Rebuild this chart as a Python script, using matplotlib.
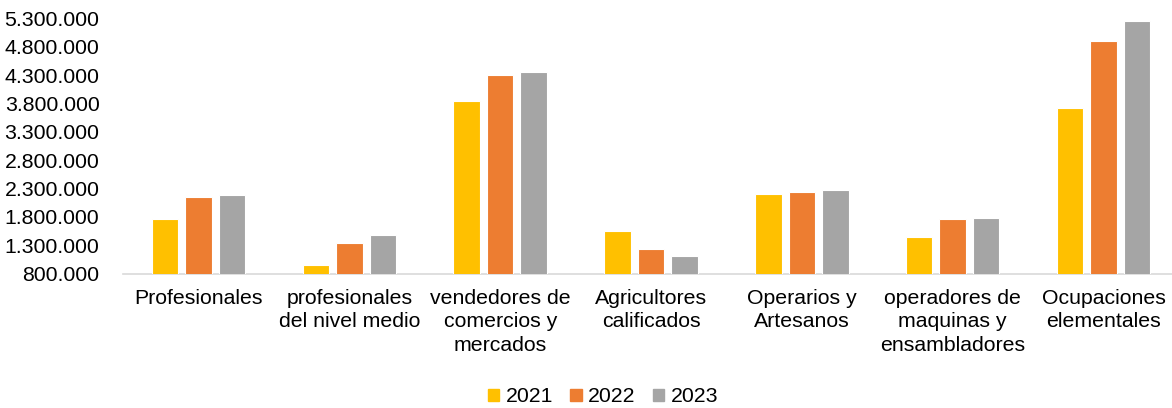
import numpy as np
import matplotlib
matplotlib.use('Agg')
import matplotlib.pyplot as plt
import matplotlib.patches as mpatches
from matplotlib.ticker import FuncFormatter

plt.rcParams['font.family'] = ['Liberation Sans', 'DejaVu Sans']

# ── Data ──────────────────────────────────────────────────────────────────────
categories = ["Profesionales",
              "profesionales\ndel nivel medio",
              "vendedores de\ncomercios y\nmercados",
              "Agricultores\ncalificados",
              "Operarios y\nArtesanos",
              "operadores de\nmaquinas y\nensambladores",
              "Ocupaciones\nelementales"]
years = ["2021", "2022", "2023"]
v2021 = [1762000, 955000, 3844000, 1545000, 2208000, 1444000, 3720000]
v2022 = [2150000, 1344000, 4297000, 1232000, 2233000, 1756000, 4908000]
v2023 = [2191000, 1474000, 4361000, 1109000, 2273000, 1779000, 5256000]
colors = ['#FFC000', '#ED7D31', '#A5A5A5']

# ── Figure ────────────────────────────────────────────────────────────────────
W, H = 1172, 408
fig = plt.figure(figsize=(W / 100, H / 100), dpi=100)
ax = fig.add_axes([123 / W, 1 - 273.5 / H, 1056 / W, 255 / H])

x = np.arange(len(categories))
bw, pitch = 0.176, 0.222
for i, (vals, col) in enumerate(zip([v2021, v2022, v2023], colors)):
    ax.bar(x + (i - 1) * pitch, vals, width=bw, color=col,
           edgecolor='white', linewidth=0.8, zorder=3)

ax.set_xlim(-0.5, len(categories) - 0.5)
ax.set_ylim(800000, 5300000)
ax.set_yticks(np.arange(800000, 5300001, 500000))
ax.yaxis.set_major_formatter(
    FuncFormatter(lambda v, p: f"{int(v):,}".replace(',', '.')))

for s in ['top', 'right', 'left']:
    ax.spines[s].set_visible(False)
ax.spines['bottom'].set_color('#d9d9d9')
ax.spines['bottom'].set_linewidth(1.2)

ax.set_xticks(x)
ax.set_xticklabels(categories, fontsize=15.3, linespacing=1.3)
ax.tick_params(axis='x', length=0, pad=11, colors='black')
ax.tick_params(axis='y', length=0, pad=17, labelsize=15.3, colors='black')

handles = [mpatches.Patch(color=c, label=y) for c, y in zip(colors, years)]
fig.legend(handles=handles, loc='center', ncol=3, frameon=False,
           bbox_to_anchor=(603 / W, 1 - 397 / H), fontsize=15.3,
           handlelength=0.55, handleheight=0.55, handletextpad=0.3,
           columnspacing=0.8, borderpad=0)

fig.savefig('out.png', dpi=100)
